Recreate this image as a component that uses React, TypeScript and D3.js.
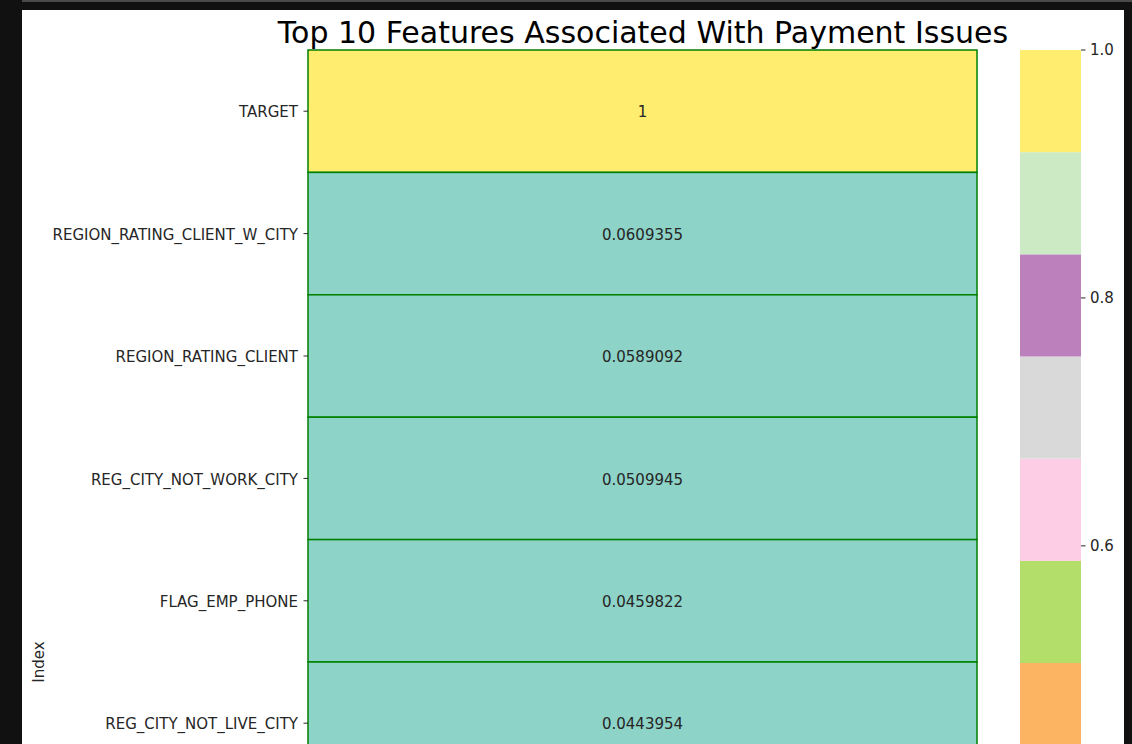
import React from "react";
import * as d3 from "d3";

const features = [
  "TARGET",
  "REGION_RATING_CLIENT_W_CITY",
  "REGION_RATING_CLIENT",
  "REG_CITY_NOT_WORK_CITY",
  "FLAG_EMP_PHONE",
  "REG_CITY_NOT_LIVE_CITY",
  "FLAG_DOCUMENT_3",
  "LIVE_CITY_NOT_WORK_CITY",
  "DEF_30_CNT_SOCIAL_CIRCLE",
  "DEF_60_CNT_SOCIAL_CIRCLE",
];
const values = [1, 0.0609355, 0.0589092, 0.0509945, 0.0459822, 0.0443954, 0.0443, 0.0326, 0.0322, 0.0313];
const labels = ["1", "0.0609355", "0.0589092", "0.0509945", "0.0459822", "0.0443954", "0.0443", "0.0326", "0.0322", "0.0313"];
const colorMin = 0.011;
const colorMax = 1.0;
const colorbarTicks = [0.2, 0.4, 0.6, 0.8, 1.0];
const palette = [
  "#8dd3c7", "#ffffb3", "#bebada", "#fb8072", "#80b1d3", "#fdb462",
  "#b3de69", "#fccde5", "#d9d9d9", "#bc80bd", "#ccebc5", "#ffed6f",
];

const W = 1132;
const H = 744;
const FONT = "DejaVu Sans, sans-serif";

export default function App() {
  const left = 308, right = 977, top = 50;
  const rowH = 122.4;
  const bottom = top + rowH * features.length;
  const y = d3.scaleBand<string>().domain(features).range([top, bottom]);
  const color = d3.scaleQuantize<string>().domain([colorMin, colorMax]).range(palette);
  const cbX = 1020, cbW = 61;
  const cbY = d3.scaleLinear().domain([colorMin, colorMax]).range([bottom + 2, top]);
  const step = (colorMax - colorMin) / palette.length;
  const bands = palette.map((c, i) => ({ c, v0: colorMin + i * step, v1: colorMin + (i + 1) * step }));
  const visible = (py: number) => py < H - 8;

  return (
    <div style={{ position: "absolute", left: 0, top: 0 }}>
      <svg width={W} height={H} style={{ display: "block" }}>
        <rect x={0} y={0} width={W} height={H} fill="#111111" />
        <rect x={22} y={0} width={W - 22} height={2} fill="#4a4a4a" />
        <rect x={22} y={10} width={1124 - 22} height={H - 10} fill="#ffffff" />
        <text x={643} y={43} textAnchor="middle" fontFamily={FONT} fontSize={30} fill="#000">
          Top 10 Features Associated With Payment Issues
        </text>
        {features.map((f, i) => (
          <rect
            key={f}
            x={left}
            y={y(f)!}
            width={right - left}
            height={y.bandwidth()}
            fill={color(values[i])}
            stroke="#008000"
            strokeWidth={1.5}
          />
        ))}
        {features.map((f, i) => {
          const cy = y(f)! + y.bandwidth() / 2;
          if (!visible(cy)) return null;
          return (
            <g key={"t" + f}>
              <text x={(left + right) / 2} y={cy + 1} dy="0.35em" textAnchor="middle" fontFamily={FONT} fontSize={15} fill="#262626">
                {labels[i]}
              </text>
              <line x1={left - 4.5} x2={left} y1={cy} y2={cy} stroke="#262626" strokeWidth={1} />
              <text x={left - 10} y={cy + 1} dy="0.35em" textAnchor="end" fontFamily={FONT} fontSize={15} fill="#262626">
                {f}
              </text>
            </g>
          );
        })}
        <text
          transform={`translate(44,${(top + bottom) / 2}) rotate(-90)`}
          textAnchor="middle"
          fontFamily={FONT}
          fontSize={15}
          fill="#262626"
        >
          Index
        </text>
        {bands.map((b, i) => (
          <rect
            key={b.c}
            x={cbX}
            y={i === palette.length - 1 ? top : cbY(b.v1)}
            width={cbW}
            height={cbY(b.v0) - (i === palette.length - 1 ? top : cbY(b.v1))}
            fill={b.c}
          />
        ))}
        {colorbarTicks.filter((t) => visible(cbY(t))).map((t) => (
          <g key={t}>
            <line x1={cbX + cbW} x2={cbX + cbW + 4.5} y1={cbY(t)} y2={cbY(t)} stroke="#262626" strokeWidth={1} />
            <text x={cbX + cbW + 9} y={cbY(t)} dy="0.35em" fontFamily={FONT} fontSize={15} fill="#262626">
              {t.toFixed(1)}
            </text>
          </g>
        ))}
      </svg>
    </div>
  );
}
